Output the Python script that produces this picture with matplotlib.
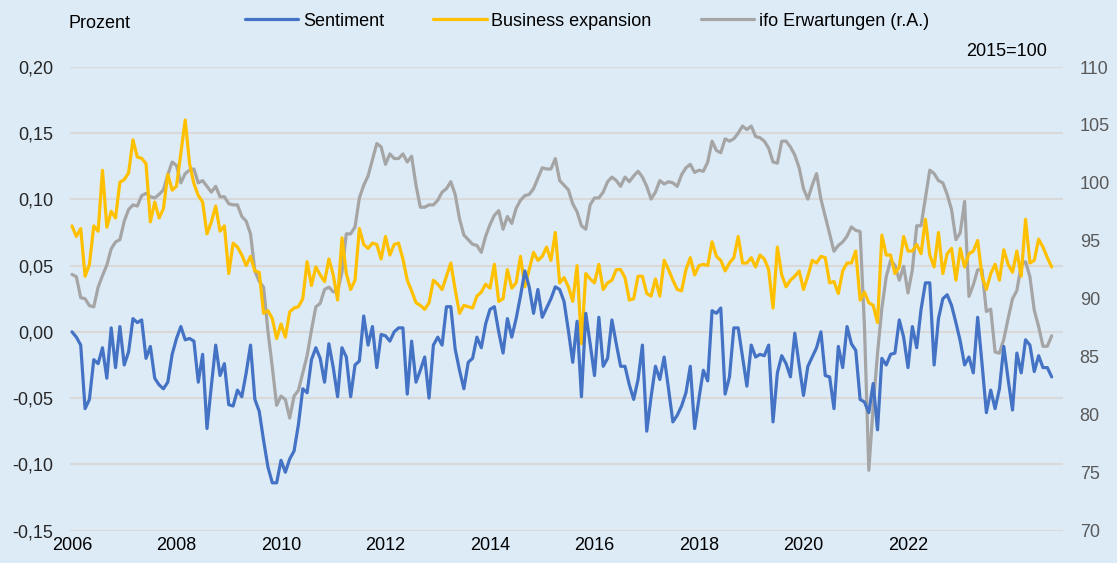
import numpy as np
import matplotlib
matplotlib.use("Agg")
import matplotlib.pyplot as plt
from matplotlib.ticker import FuncFormatter, FixedLocator

plt.rcParams['font.family'] = ['Liberation Sans', 'DejaVu Sans']

# Monthly data, starting at the "2006" tick
sentiment = [
    -0.000, -0.004, -0.010, -0.058, -0.051, -0.021, -0.024, -0.012, -0.035, 0.003,
    -0.027, 0.004, -0.025, -0.015, 0.010, 0.007, 0.009, -0.020, -0.011, -0.035,
    -0.040, -0.043, -0.038, -0.017, -0.005, 0.004, -0.006, -0.005, -0.007, -0.038,
    -0.017, -0.073, -0.041, -0.010, -0.033, -0.024, -0.055, -0.056, -0.044, -0.049,
    -0.031, -0.010, -0.051, -0.060, -0.082, -0.102, -0.114, -0.114, -0.097, -0.106,
    -0.096, -0.090, -0.070, -0.043, -0.046, -0.021, -0.012, -0.020, -0.038, -0.009,
    -0.027, -0.049, -0.012, -0.019, -0.049, -0.025, -0.022, 0.012, -0.010, 0.004,
    -0.027, -0.002, -0.003, -0.007, -0.000, 0.003, 0.003, -0.047, -0.007, -0.038,
    -0.029, -0.019, -0.050, -0.010, -0.004, -0.010, 0.019, 0.019, -0.013, -0.029,
    -0.043, -0.023, -0.020, -0.004, -0.012, 0.006, 0.017, 0.019, -0.000, -0.016,
    0.010, -0.004, 0.010, 0.027, 0.046, 0.034, 0.014, 0.032, 0.011, 0.018,
    0.025, 0.034, 0.032, 0.023, 0.001, -0.023, 0.008, -0.049, 0.014, -0.009,
    -0.033, 0.011, -0.026, -0.020, 0.009, -0.009, -0.026, -0.026, -0.040, -0.051,
    -0.036, -0.010, -0.075, -0.049, -0.026, -0.036, -0.019, -0.043, -0.068, -0.063,
    -0.056, -0.046, -0.026, -0.073, -0.050, -0.029, -0.037, 0.016, 0.014, 0.018,
    -0.047, -0.034, 0.003, 0.003, -0.019, -0.041, -0.010, -0.019, -0.017, -0.018,
    -0.010, -0.068, -0.031, -0.018, -0.024, -0.034, -0.001, -0.025, -0.048, -0.026,
    -0.019, -0.012, -0.000, -0.033, -0.034, -0.058, -0.011, -0.027, 0.004, -0.009,
    -0.014, -0.051, -0.053, -0.061, -0.039, -0.074, -0.020, -0.025, -0.017, -0.016,
    0.009, -0.004, -0.027, 0.004, -0.012, 0.017, 0.037, 0.037, -0.025, 0.010,
    0.025, 0.028, 0.020, 0.007, -0.007, -0.025, -0.019, -0.031, 0.011, -0.024,
    -0.061, -0.044, -0.058, -0.043, -0.011, -0.036, -0.059, -0.016, -0.031, -0.006,
    -0.010, -0.030, -0.018, -0.027, -0.027, -0.034,
]

business_expansion = [
    0.080, 0.072, 0.078, 0.042, 0.051, 0.080, 0.076, 0.122, 0.079, 0.091,
    0.086, 0.113, 0.115, 0.120, 0.145, 0.132, 0.131, 0.127, 0.083, 0.098,
    0.086, 0.093, 0.119, 0.107, 0.110, 0.135, 0.160, 0.127, 0.112, 0.103,
    0.098, 0.074, 0.083, 0.095, 0.076, 0.080, 0.044, 0.067, 0.064, 0.058,
    0.050, 0.057, 0.046, 0.045, 0.014, 0.016, 0.010, -0.005, 0.006, -0.004,
    0.015, 0.018, 0.019, 0.025, 0.053, 0.035, 0.049, 0.043, 0.038, 0.055,
    0.043, 0.024, 0.071, 0.044, 0.032, 0.039, 0.078, 0.066, 0.063, 0.067,
    0.066, 0.055, 0.072, 0.058, 0.066, 0.067, 0.055, 0.039, 0.031, 0.022,
    0.020, 0.017, 0.022, 0.039, 0.036, 0.032, 0.042, 0.052, 0.032, 0.014,
    0.020, 0.019, 0.018, 0.027, 0.030, 0.036, 0.033, 0.051, 0.023, 0.025,
    0.047, 0.033, 0.037, 0.057, 0.034, 0.047, 0.060, 0.054, 0.057, 0.064,
    0.054, 0.075, 0.037, 0.041, 0.034, 0.023, 0.050, -0.009, 0.044, 0.040,
    0.037, 0.051, 0.032, 0.037, 0.039, 0.047, 0.047, 0.041, 0.024, 0.025,
    0.042, 0.042, 0.029, 0.027, 0.040, 0.027, 0.054, 0.047, 0.039, 0.032,
    0.031, 0.047, 0.056, 0.043, 0.050, 0.051, 0.050, 0.068, 0.057, 0.054,
    0.046, 0.052, 0.056, 0.072, 0.052, 0.052, 0.056, 0.049, 0.058, 0.055,
    0.047, 0.018, 0.064, 0.043, 0.034, 0.039, 0.042, 0.046, 0.032, 0.042,
    0.054, 0.052, 0.057, 0.056, 0.037, 0.038, 0.029, 0.046, 0.052, 0.052,
    0.061, 0.024, 0.030, 0.022, 0.020, 0.007, 0.073, 0.058, 0.058, 0.044,
    0.049, 0.072, 0.061, 0.061, 0.066, 0.059, 0.085, 0.058, 0.049, 0.075,
    0.044, 0.059, 0.063, 0.039, 0.063, 0.049, 0.059, 0.061, 0.069, 0.042,
    0.032, 0.044, 0.051, 0.039, 0.062, 0.051, 0.045, 0.061, 0.042, 0.085,
    0.052, 0.054, 0.070, 0.064, 0.056, 0.049,
]

ifo_erwartungen = [
    92.1, 91.9, 90.1, 90.0, 89.4, 89.3, 91.0, 92.0, 92.9, 94.3,
    94.9, 95.1, 96.7, 97.7, 98.1, 98.0, 98.9, 99.1, 98.8, 98.7,
    99.0, 99.4, 100.7, 101.8, 101.5, 100.0, 100.8, 101.1, 101.2, 100.0,
    100.2, 99.7, 99.2, 99.7, 98.8, 98.8, 98.2, 98.1, 98.1, 97.1,
    96.7, 95.6, 92.4, 91.5, 91.0, 87.2, 84.1, 80.8, 81.6, 81.3,
    79.7, 81.6, 82.1, 83.6, 85.1, 87.3, 89.3, 89.6, 90.8, 91.0,
    90.6, 90.6, 92.3, 95.6, 95.6, 96.2, 98.7, 99.8, 100.6, 102.0,
    103.4, 103.1, 101.6, 102.5, 102.1, 102.1, 102.5, 101.8, 102.3, 99.8,
    97.9, 97.9, 98.1, 98.1, 98.5, 99.2, 99.5, 100.1, 99.0, 96.9,
    95.5, 95.1, 94.7, 94.6, 94.0, 95.4, 96.4, 97.2, 97.6, 96.0,
    97.1, 96.5, 97.8, 98.5, 98.9, 99.0, 99.5, 100.4, 101.3, 101.2,
    101.2, 102.1, 100.2, 99.8, 99.4, 98.2, 97.5, 96.3, 96.0, 98.1,
    98.7, 98.7, 99.2, 100.1, 100.5, 100.2, 99.7, 100.5, 100.1, 100.6,
    101.0, 100.5, 99.7, 98.6, 99.2, 100.2, 99.9, 100.1, 100.0, 99.7,
    100.7, 101.3, 101.6, 100.9, 101.1, 101.0, 101.8, 103.6, 102.8, 102.6,
    103.8, 103.6, 103.8, 104.3, 104.9, 104.6, 104.9, 104.0, 103.9, 103.6,
    103.0, 101.8, 101.7, 103.6, 103.6, 103.1, 102.4, 101.3, 99.5, 98.6,
    99.8, 100.8, 98.6, 97.1, 95.6, 94.1, 94.6, 94.9, 95.4, 96.2,
    95.9, 95.8, 87.6, 75.2, 80.7, 85.3, 89.2, 91.9, 93.3, 92.9,
    91.6, 92.8, 90.5, 92.5, 96.3, 96.3, 98.7, 101.1, 100.8, 100.2,
    100.0, 99.0, 97.7, 95.1, 95.7, 98.4, 90.2, 91.2, 92.5, 92.5,
    88.9, 89.1, 85.4, 85.3, 86.5, 88.3, 90.0, 90.7, 92.9, 93.2,
    91.9, 89.0, 87.6, 85.9, 85.9, 86.8,
]

year_ticks = [2006, 2008, 2010, 2012, 2014, 2016, 2018, 2020, 2022]
left_ticks = [-0.15, -0.10, -0.05, 0.00, 0.05, 0.10, 0.15, 0.20]
right_ticks = [70, 75, 80, 85, 90, 95, 100, 105, 110]

labels = ["Sentiment", "Business expansion", "ifo Erwartungen (r.A.)"]
colors = ["#4472C4", "#FFC000", "#A5A5A5"]

bg = "#DDEBF7"
FS = 13
W, H = 1117, 563
fig = plt.figure(figsize=(W / 100, H / 100), dpi=100, facecolor=bg)

x0, x1 = 70, 1063
y_top, y_bot = 67, 530.5
ax = fig.add_axes([x0 / W, 1 - y_bot / H, (x1 - x0) / W, (y_bot - y_top) / H])
ax.set_facecolor(bg)
ax2 = ax.twinx()

n = len(sentiment)
t = 2006 + np.arange(n) / 12.0

lw = 2.3
l3, = ax2.plot(t[:len(ifo_erwartungen)], ifo_erwartungen, color=colors[2], lw=lw,
               solid_joinstyle='round', solid_capstyle='round')
l2, = ax.plot(t[:len(business_expansion)], business_expansion, color=colors[1], lw=lw,
              solid_joinstyle='round', solid_capstyle='round')
l1, = ax.plot(t, sentiment, color=colors[0], lw=lw,
              solid_joinstyle='round', solid_capstyle='round')
ax.set_zorder(ax2.get_zorder() + 1)
ax.patch.set_visible(False)
ax2.patch.set_visible(True)
ax2.patch.set_facecolor(bg)

px_per_year = (908 - 72) / 16.0
xl = 2006 - (72 - x0) / px_per_year
xr = 2006 + (x1 - 72) / px_per_year
ax.set_xlim(xl, xr)

ax.set_ylim(-0.15, 0.20)
ax2.set_ylim(70, 110)

ax.yaxis.set_major_locator(FixedLocator(left_ticks))
ax.yaxis.set_major_formatter(FuncFormatter(lambda v, p: f"{v:.2f}".replace(".", ",").replace("-0,00", "0,00")))
ax2.yaxis.set_major_locator(FixedLocator(right_ticks))
ax.set_xticks(year_ticks)
ax.set_xticklabels([str(y) for y in year_ticks])

for a in (ax, ax2):
    for s in a.spines.values():
        s.set_visible(False)

for v in left_ticks:
    ax2.axhline(70 + (v + 0.15) / 0.35 * 40, color="#D9D9D9", lw=1.5, zorder=0)

ax.tick_params(axis='y', length=0, pad=12, labelsize=FS, labelcolor="#262626")
ax.tick_params(axis='x', length=0, pad=5, labelsize=FS, labelcolor="#000000")
ax2.tick_params(axis='y', length=0, pad=12, labelsize=FS, labelcolor="#595959")

fig.text(69 / W, 1 - 24 / H, "Prozent", fontsize=FS, ha='left', va='center', color="#000000")
fig.text(1047 / W, 1 - 52 / H, "2015=100", fontsize=FS, ha='right', va='center', color="#000000")

leg = fig.legend([l1, l2, l3], labels, loc='center', bbox_to_anchor=(587 / W, 1 - 21 / H),
                 ncol=3, frameon=False, fontsize=FS, handlelength=2.95, handletextpad=0.25,
                 columnspacing=2.75, borderpad=0, borderaxespad=0)

fig.savefig("out.png", dpi=100, facecolor=bg)
